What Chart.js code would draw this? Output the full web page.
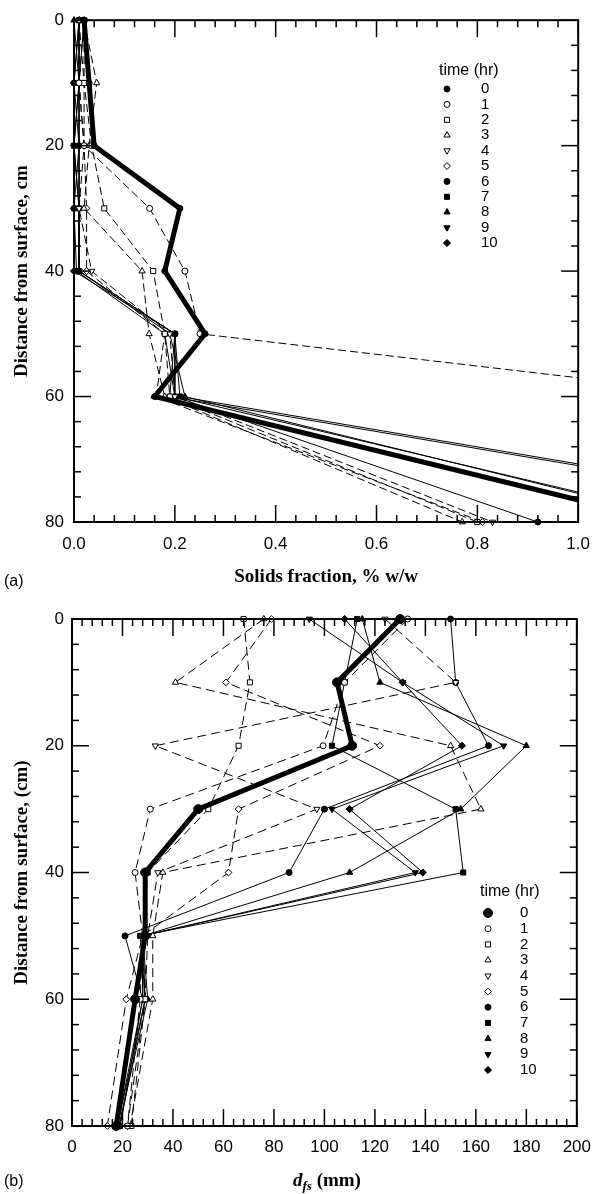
<!DOCTYPE html>
<html>
<head>
<meta charset="utf-8">
<script src="https://cdn.jsdelivr.net/npm/chart.js@4.4.1/dist/chart.umd.min.js"></script>
<style>
  html, body { margin: 0; padding: 0; background: #fff; width: 602px; height: 1194px; overflow: hidden; }
  .wrap { position: absolute; left: 0; width: 602px; height: 597px; }
  #wrapA { top: 0; }
  #wrapB { top: 597px; }
  .tag { position: absolute; font-family: 'Liberation Sans', Arial, sans-serif; font-size: 16px; color: #000; }
  .xtitle { position: absolute; font-family: 'Liberation Serif', 'Times New Roman', serif; font-weight: bold; font-size: 19px; color: #000; white-space: nowrap; }
  .xtitle sub { font-size: 13px; font-style: italic; vertical-align: -4px; }
</style>
</head>
<body>
<div class="wrap" id="wrapA"><canvas id="chartA" width="602" height="597"></canvas></div>
<div class="wrap" id="wrapB"><canvas id="chartB" width="602" height="597"></canvas></div>
<div class="tag" style="left:4px; top:572px;">(a)</div>
<div class="tag" style="left:4px; top:1172px;">(b)</div>
<div class="xtitle" style="left:293px; top:1169px;"><i>d</i><sub>fs</sub> (mm)</div>

<script>
// ---- data: sampling depths and profiles for each hour ----
const depths = [0, 10, 20, 30, 40, 50, 60, 80];
const timeLabels = ['0', '1', '2', '3', '4', '5', '6', '7', '8', '9', '10'];

// (a) solids fraction, % w/w, at each depth
const fracHr0  = [0.02, 0.03, 0.04, 0.21, 0.18, 0.26, 0.16, 1.18];
const fracHr1  = [0.02, 0.01, 0.02, 0.15, 0.22, 0.25, 1.32, 1.50];
const fracHr2  = [0.02, 0.02, 0.035, 0.06, 0.157, 0.18, 0.19, 0.80];
const fracHr3  = [0.02, 0.045, 0.03, 0.02, 0.135, 0.149, 0.18, 0.77];
const fracHr4  = [0.01, 0.02, 0.02, 0.01, 0.035, 0.19, 0.20, 0.83];
const fracHr5  = [0.01, 0.01, 0.02, 0.025, 0.025, 0.18, 0.163, 0.81];
const fracHr6  = [0.01, 0.0, 0.01, 0.0, 0.005, 0.18, 0.20, 0.92];
const fracHr7  = [0.01, 0.01, 0.0, 0.01, 0.01, 0.20, 0.21, 1.68];
const fracHr8  = [0.0, 0.01, 0.01, 0.01, 0.01, 0.19, 0.22, 1.23];
const fracHr9  = [0.02, 0.01, 0.0, 0.01, 0.01, 0.20, 0.20, 1.25];
const fracHr10 = [0.01, 0.0, 0.0, 0.0, 0.0, 0.20, 0.19, 1.66];

// (b) floc size d_fs, mm, at each depth
const sizeHr0  = [130, 105, 111, 50, 29, 29, 25, 17.5];
const sizeHr1  = [133, 108, 99.5, 31, 25, 28, 27, 22];
const sizeHr2  = [68, 70.5, 66, 54, 30, 28, 29, 23.5];
const sizeHr3  = [76, 41, 150, 162, 36, 32, 32, 23];
const sizeHr4  = [124, 152, 33, 97, 34, 30, 29, 22];
const sizeHr5  = [79, 61, 122, 66, 62, 28, 21.5, 14];
const sizeHr6  = [150, 152, 165, 100, 86, 21, 28, 19];
const sizeHr7  = [113, 108, 103, 152, 155, 27, 29, 19];
const sizeHr8  = [115, 122, 180, 154, 110, 28, 30, 18.5];
const sizeHr9  = [94, 131, 171, 103, 136, 28, 29, 18];
const sizeHr10 = [108, 131, 154.5, 110, 139, 28, 28, 18];

// tick values
const fracTicks  = [0, 0.2, 0.4, 0.6, 0.8, 1.0];
const sizeTicks  = [0, 20, 40, 60, 80, 100, 120, 140, 160, 180, 200];
const depthTicks = [0, 20, 40, 60, 80];

const fracSeries = [fracHr0, fracHr1, fracHr2, fracHr3, fracHr4, fracHr5, fracHr6, fracHr7, fracHr8, fracHr9, fracHr10];
const sizeSeries = [sizeHr0, sizeHr1, sizeHr2, sizeHr3, sizeHr4, sizeHr5, sizeHr6, sizeHr7, sizeHr8, sizeHr9, sizeHr10];

// ---- marker / line styling per hour ----
const shapes    = ['circle', 'circle', 'rect', 'triangle', 'triangle', 'rectRot', 'circle', 'rect', 'triangle', 'triangle', 'rectRot'];
const rotations = [0, 0, 0, 0, 180, 0, 0, 0, 0, 180, 0];
const filled    = [true, false, false, false, false, false, true, true, true, true, true];
const dashed    = [false, true, true, true, true, true, false, false, false, false, false];
const radii     = [3, 3, 3.6, 3.6, 3.6, 3.4, 3, 3.6, 3.6, 3.6, 3.6];

function buildDatasets(series, firstRadius, dash) {
  return series.map((vals, i) => ({
    label: timeLabels[i],
    data: depths.map((d, k) => ({ x: vals[k], y: d })),
    showLine: true,
    tension: 0,
    borderColor: '#000',
    borderWidth: i === 0 ? 5 : 1,
    borderDash: dashed[i] ? dash : [],
    pointStyle: shapes[i],
    pointRotation: rotations[i],
    pointRadius: i === 0 ? firstRadius : radii[i],
    pointBackgroundColor: filled[i] ? '#000' : '#fff',
    pointBorderColor: '#000',
    pointBorderWidth: 1,
    clip: { left: 8, top: 8, right: 0, bottom: 8 }
  }));
}

// simple marker renderer for the key
function drawMarker(ctx, shape, rot, r, fill, x, y) {
  ctx.save();
  ctx.fillStyle = fill ? '#000' : '#fff';
  ctx.strokeStyle = '#000';
  ctx.lineWidth = 1;
  ctx.setLineDash([]);
  if (Chart.helpers && Chart.helpers.drawPoint) {
    Chart.helpers.drawPoint(ctx, { pointStyle: shape, rotation: rot, radius: r, borderWidth: 1 }, x, y);
  } else {
    ctx.beginPath();
    ctx.arc(x, y, r, 0, Math.PI * 2);
    ctx.fill(); ctx.stroke();
  }
  ctx.restore();
}

// boxed frame with inward minor / major ticks on all four sides
const frameTicks = {
  id: 'frameTicks',
  afterDraw(chart, args, o) {
    const { ctx, chartArea: ca, scales: { x, y } } = chart;
    ctx.save();
    ctx.strokeStyle = '#000';
    ctx.setLineDash([]);
    ctx.lineWidth = 2;
    ctx.strokeRect(ca.left, ca.top, ca.right - ca.left, ca.bottom - ca.top);
    ctx.lineWidth = 1.5;
    const seg = (x1, y1, x2, y2) => { ctx.beginPath(); ctx.moveTo(x1, y1); ctx.lineTo(x2, y2); ctx.stroke(); };
    const nx = Math.round((o.xMax - o.xMin) / o.xMinor);
    const xEvery = Math.round(o.xMajor / o.xMinor);
    for (let k = 0; k <= nx; k++) {
      const px = x.getPixelForValue(o.xMin + k * o.xMinor);
      const len = k % xEvery === 0 ? 17 : 7;
      seg(px, ca.bottom, px, ca.bottom - len);
      seg(px, ca.top, px, ca.top + len);
    }
    const ny = Math.round((o.yMax - o.yMin) / o.yMinor);
    const yEvery = Math.round(o.yMajor / o.yMinor);
    for (let k = 0; k <= ny; k++) {
      const py = y.getPixelForValue(o.yMin + k * o.yMinor);
      const len = k % yEvery === 0 ? 17 : 7;
      seg(ca.left, py, ca.left + len, py);
      seg(ca.right, py, ca.right - len, py);
    }
    ctx.restore();
  }
};

// key listing the hours with their markers
const timeKey = {
  id: 'timeKey',
  afterDraw(chart, args, o) {
    const ctx = chart.ctx;
    ctx.save();
    ctx.fillStyle = '#000';
    ctx.textBaseline = 'middle';
    ctx.textAlign = 'left';
    ctx.font = '16px "Liberation Sans", Arial, sans-serif';
    ctx.fillText('time (hr)', o.headX, o.headY);
    ctx.font = '15px "Liberation Sans", Arial, sans-serif';
    chart.data.datasets.forEach((ds, i) => {
      const yy = o.firstY + i * o.step;
      drawMarker(ctx, shapes[i], rotations[i], ds.pointRadius, filled[i], o.markX, yy);
      ctx.fillStyle = '#000';
      ctx.fillText(timeLabels[i], o.textX, yy);
    });
    ctx.restore();
  }
};

const tickFont = { family: "'Liberation Sans', Arial, sans-serif", size: 17 };
const titleFont = { family: "'Liberation Serif', 'Times New Roman', serif", size: 19, weight: 'bold' };

function makeChart(id, datasets, cfg) {
  return new Chart(document.getElementById(id), {
    type: 'scatter',
    data: { datasets },
    options: {
      responsive: false,
      animation: false,
      devicePixelRatio: 1,
      layout: { padding: { left: 0, right: 602 - cfg.right, top: cfg.top, bottom: 0 } },
      plugins: {
        legend: { display: false },
        tooltip: { enabled: false },
        frameTicks: cfg.frame,
        timeKey: cfg.key
      },
      scales: {
        x: {
          type: 'linear',
          min: cfg.xMin, max: cfg.xMax,
          grid: { display: false, drawTicks: false },
          border: { display: false },
          afterBuildTicks: s => { s.ticks = cfg.xTicks.map(v => ({ value: v })); },
          afterFit: s => { s.height = 597 - cfg.bottom; },
          ticks: { color: '#000', font: tickFont, padding: cfg.xPad, maxRotation: 0, autoSkip: false, callback: cfg.xFmt },
          title: cfg.xTitle ? { display: true, text: cfg.xTitle, color: '#000', font: titleFont, padding: { top: 0, bottom: 9 } } : { display: false }
        },
        y: {
          type: 'linear',
          reverse: true,
          min: 0, max: 80,
          grid: { display: false, drawTicks: false },
          border: { display: false },
          afterBuildTicks: s => { s.ticks = depthTicks.map(v => ({ value: v })); },
          afterFit: s => { s.width = cfg.left; },
          ticks: { color: '#000', font: tickFont, padding: cfg.yPad, autoSkip: false },
          title: { display: true, text: cfg.yTitle, color: '#000', font: titleFont, padding: { top: 11, bottom: 0 } }
        }
      }
    },
    plugins: [frameTicks, timeKey]
  });
}

// (a) solids fraction profile
makeChart('chartA', buildDatasets(fracSeries, 3, [8, 4]), {
  left: 74, right: 584, top: 15, bottom: 522,
  xMin: 0, xMax: 1, xTicks: fracTicks, xPad: 12,
  xFmt: v => Number(v).toFixed(1),
  yPad: 10,
  xTitle: 'Solids fraction, % w/w',
  yTitle: 'Distance from surface, cm',
  frame: { xMin: 0, xMax: 1, xMinor: 0.04, xMajor: 0.2, yMin: 0, yMax: 80, yMinor: 4, yMajor: 20 },
  key: { headX: 439, headY: 71, markX: 447, textX: 481, firstY: 89, step: 15.4 }
});

// (b) floc size profile
makeChart('chartB', buildDatasets(sizeSeries, 4.5, [9, 5]), {
  left: 72, right: 577, top: 22, bottom: 529,
  xMin: 0, xMax: 200, xTicks: sizeTicks, xPad: 11,
  xFmt: v => String(v),
  yPad: 8,
  xTitle: null,
  yTitle: 'Distance from surface, (cm)',
  frame: { xMin: 0, xMax: 200, xMinor: 4, xMajor: 20, yMin: 0, yMax: 80, yMinor: 4, yMajor: 20 },
  key: { headX: 480, headY: 295, markX: 488, textX: 520, firstY: 316, step: 15.7 }
});
</script>
</body>
</html>
